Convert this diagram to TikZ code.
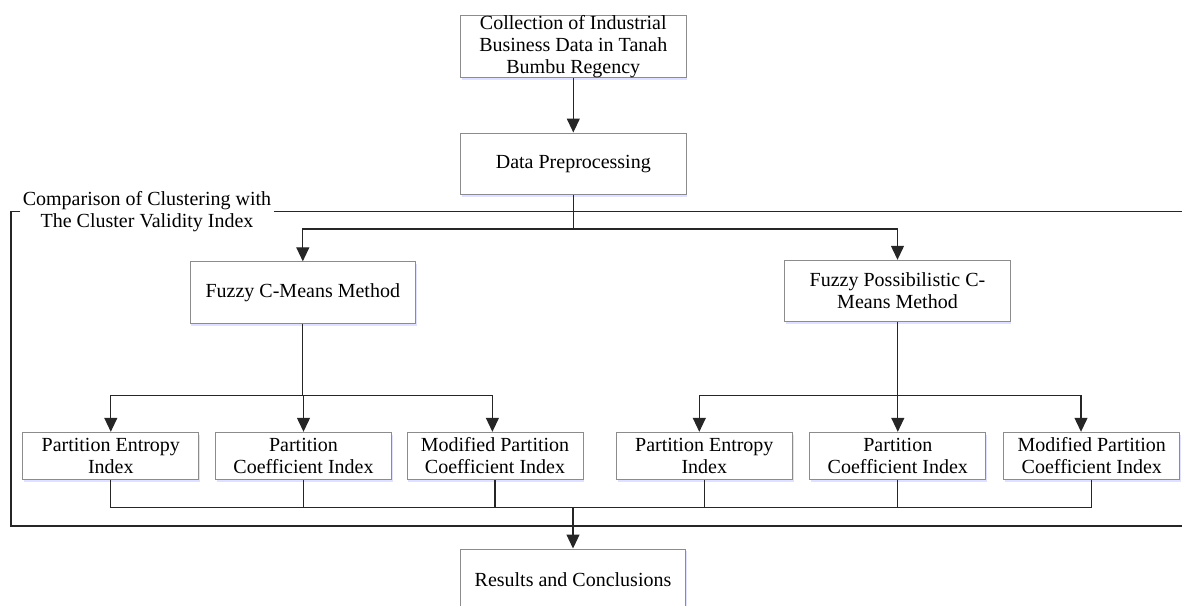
\documentclass[tikz,border=0pt]{standalone}
\usepackage{fontspec}
\setmainfont{Liberation Serif}
\newfontfamily\boxfont{Liberation Serif}
\usetikzlibrary{arrows.meta,shadows}

\tikzset{
  box/.style={draw=black!45, fill=white, line width=0.5pt, align=center,
    inner xsep=1pt, inner ysep=0pt, font=\boxfont\fontsize{10}{11}\selectfont,
    drop shadow={shadow xshift=0.6pt, shadow yshift=-1.2pt, fill=blue!12!white, opacity=1}},
  bigbox/.style={box, minimum width=112.7pt, minimum height=30.7pt},
  idxbox/.style={box, minimum width=88pt, minimum height=23.5pt},
  link/.style={line width=0.6pt, black!85},
  arr/.style={link, -{Triangle[length=7pt,width=6.5pt]}}
}

\begin{document}
\begin{tikzpicture}[x=0.5pt,y=-0.5pt]
\useasboundingbox (0,0) rectangle (1182,605);
\clip (0,0) rectangle (1182,605);

\node[bigbox] (collect) at (573.3,46.7) {Collection of Industrial\\Business Data in Tanah\\Bumbu Regency};
\node[bigbox] (prep) at (573.3,163.7) {Data Preprocessing};

\node[font=\boxfont\fontsize{10}{11}\selectfont, align=center, inner xsep=1pt, inner ysep=0pt] (validity) at (147,211.7) {Comparison of Clustering with\\The Cluster Validity Index};
\draw[link] (validity.west) -- (11,211.7) -- (11,526) -- (1190,526);
\draw[link] (validity.east) -- (1190,211.7);

\node[bigbox] (fcm) at (302.8,292.5) {Fuzzy C-Means Method};
\node[bigbox] (fpcm) at (897.5,291) {Fuzzy Possibilistic C-\\Means Method};

\node[idxbox] (pe1) at (110.8,455.8) {Partition Entropy\\Index};
\node[idxbox] (pc1) at (303.5,455.8) {Partition\\Coefficient Index};
\node[idxbox] (mpc1) at (495,455.8) {Modified Partition\\Coefficient Index};
\node[idxbox] (pe2) at (704.3,455.8) {Partition Entropy\\Index};
\node[idxbox] (pc2) at (897.8,455.8) {Partition\\Coefficient Index};
\node[idxbox] (mpc2) at (1091.8,455.8) {Modified Partition\\Coefficient Index};

\node[bigbox] (results) at (573,579.7) {Results and Conclusions};

\draw[arr] (collect) -- (prep);

\coordinate (split) at (573.3,229);
\draw[link] (prep.south) -- (split);
\draw[arr] (split) -| (fcm.north);
\draw[arr] (split) -| (fpcm.north);

\coordinate (lsplit) at (302.8,395.7);
\draw[link] (fcm.south) -- (lsplit);
\draw[arr] (lsplit) -| (pe1.north);
\draw[arr] (lsplit) -| (pc1.north);
\draw[arr] (lsplit) -| ([xshift=-1.3pt]mpc1.north);

\coordinate (rsplit) at (897.5,395.7);
\draw[link] (fpcm.south) -- (rsplit);
\draw[arr] (rsplit) -| ([xshift=-2.5pt]pe2.north);
\draw[arr] (rsplit) -| (pc2.north);
\draw[arr] (rsplit) -| ([xshift=-5.4pt]mpc2.north);

\coordinate (merge) at (573,507.7);
\draw[link] (pe1.south) |- (merge) -| (mpc2.south);
\foreach \n in {pc1,mpc1,pe2,pc2}
  \draw[link] (\n.south) -- (\n.south |- merge);
\draw[arr] (merge) -- (results.north);

\end{tikzpicture}
\end{document}
